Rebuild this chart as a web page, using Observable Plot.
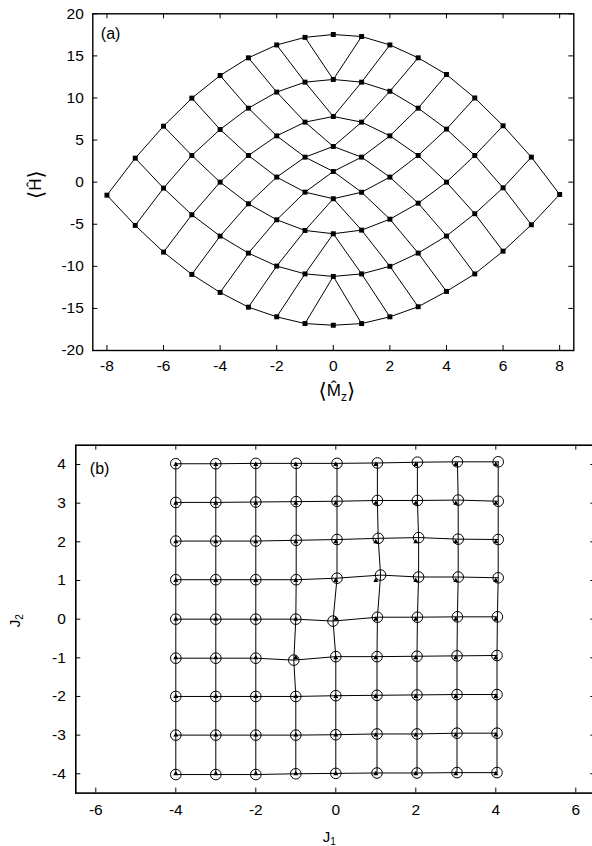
<!DOCTYPE html>
<html><head><meta charset="utf-8">
<script src="https://cdn.jsdelivr.net/npm/d3@7"></script>
<script src="https://cdn.jsdelivr.net/npm/@observablehq/plot@0.6"></script>
<style>
html,body{margin:0;padding:0;background:#fff;overflow:hidden;width:592px;height:846px;}
#a{position:absolute;left:0;top:0;width:592px;}
#b{position:absolute;left:0;top:420px;width:600px;}
svg{max-width:none !important;}
</style></head>
<body><div id="a"></div><div id="b"></div>
<script>
// ---------- Panel (a) data ----------
const mzTicks = [-8, -6, -4, -2, 0, 2, 4, 6, 8];
const hTicks = [-20, -15, -10, -5, 0, 5, 10, 15, 20];
const mzColumns = [-8, -7, -6, -5, -4, -3, -2, -1, 0, 1, 2, 3, 4, 5, 6, 7, 8];
// <H> values in each <Mz> column, listed top to bottom
const hM8 = [-1.55];
const hM7 = [2.85, -5.14];
const hM6 = [6.65, -0.71, -8.31];
const hM5 = [9.98, 3.17, -3.87, -10.96];
const hM4 = [12.67, 6.26, 0.0, -6.41, -13.1];
const hM3 = [14.77, 8.79, 3.17, -2.57, -8.43, -14.85];
const hM2 = [16.3, 10.7, 5.5, 0.6, -4.47, -9.97, -16.0];
const hM1 = [17.2, 11.88, 7.13, 2.97, -1.19, -5.74, -10.9, -16.8];
const h0  = [17.54, 12.2, 7.8, 4.24, 1.27, -1.97, -6.13, -11.2, -17.0];
const hP1 = [17.3, 11.88, 7.13, 2.97, -1.2, -5.7, -10.9, -16.8];
const hP2 = [16.3, 10.8, 5.5, 0.6, -4.4, -10.0, -16.0];
const hP3 = [14.77, 8.79, 3.17, -2.5, -8.43, -14.8];
const hP4 = [12.79, 6.3, 0.0, -6.4, -12.98];
const hP5 = [10.0, 3.17, -3.75, -10.9];
const hP6 = [6.7, -0.67, -8.2];
const hP7 = [2.97, -5.06];
const hP8 = [-1.46];
const hColumns = [hM8, hM7, hM6, hM5, hM4, hM3, hM2, hM1, h0, hP1, hP2, hP3, hP4, hP5, hP6, hP7, hP8];

// ---------- Panel (b) data ----------
const j1Ticks = [-6, -4, -2, 0, 2, 4, 6];
const j2Ticks = [-4, -3, -2, -1, 0, 1, 2, 3, 4];
const gridJ1 = [-4, -3, -2, -1, 0, 1, 2, 3, 4];
const gridJ2 = [4, 3, 2, 1, 0, -1, -2, -3, -4]; // rows, top to bottom
// recovered (J1, J2) for each grid point, rows top to bottom
const recJ1 = [
  [-4, -3, -2, -0.99, 0.03, 1.04, 2.04, 3.04, 4.06],
  [-4, -3, -2, -0.99, 0.03, 1.04, 2.04, 3.06, 4.06],
  [-4, -3, -2, -0.99, 0.03, 1.06, 2.07, 3.06, 4.06],
  [-4, -3, -2, -0.99, 0.03, 1.12, 2.07, 3.06, 4.06],
  [-4, -3, -2, -1.0, -0.07, 1.04, 2.04, 3.04, 4.04],
  [-4, -3, -2, -1.05, 0.0, 1.03, 2.03, 3.03, 4.03],
  [-4, -3, -2, -1.0, 0.0, 1.03, 2.03, 3.03, 4.03],
  [-4, -3, -2, -1.0, 0.0, 1.03, 2.03, 3.03, 4.03],
  [-4, -3, -2, -1.0, 0.0, 1.03, 2.03, 3.03, 4.03]
];
const recJ2 = [
  [4.02, 4.02, 4.03, 4.03, 4.03, 4.04, 4.06, 4.07, 4.07],
  [3.02, 3.02, 3.03, 3.04, 3.05, 3.07, 3.07, 3.08, 3.05],
  [2.02, 2.02, 2.02, 2.04, 2.06, 2.09, 2.11, 2.07, 2.06],
  [1.02, 1.02, 1.02, 1.02, 1.06, 1.14, 1.09, 1.09, 1.07],
  [0.0, 0.0, 0.0, 0.0, -0.05, 0.05, 0.05, 0.06, 0.06],
  [-1.01, -1.01, -1.01, -1.06, -0.97, -0.97, -0.96, -0.95, -0.94],
  [-2.0, -2.0, -2.0, -2.0, -1.98, -1.97, -1.96, -1.95, -1.95],
  [-3.0, -3.0, -3.0, -3.0, -2.99, -2.97, -2.97, -2.95, -2.95],
  [-4.02, -4.02, -4.02, -4.0, -3.99, -3.98, -3.98, -3.97, -3.97]
];

// ---------- build panel (a) ----------
const FONT = "Liberation Sans, Arial, Helvetica, sans-serif";
const fmt = d => String(d);
const ptsA = [];
const keyA = new Map();
mzColumns.forEach((k, c) => {
  const aStart = Math.max(-4, k - 4);
  hColumns[c].forEach((h, i) => {
    const a = aStart + i, b = k - a;
    const p = {a, b, mz: k, h};
    ptsA.push(p);
    keyA.set(a + "," + b, p);
  });
});
const edgesA = [];
for (const p of ptsA) {
  for (const [da, db] of [[1, 0], [0, 1]]) {
    const q = keyA.get((p.a + da) + "," + (p.b + db));
    if (q) edgesA.push({x1: p.mz, y1: p.h, x2: q.mz, y2: q.h});
  }
}

const A = {w: 592, h: 420, ml: 92.3, mr: 18.7, mt: 13.3, mb: 70};
const aFW = A.w - A.ml - A.mr, aFH = A.h - A.mt - A.mb;
const TL = 5; // inward tick length (px)
const TF = 15.5; // tick font size

const plotA = Plot.plot({
  width: A.w, height: A.h,
  marginLeft: A.ml, marginRight: A.mr, marginTop: A.mt, marginBottom: A.mb,
  x: {domain: [-8.5, 8.5]},
  y: {domain: [-20, 20]},
  style: {fontFamily: FONT, fontSize: TF + "px", color: "black", background: "white", overflow: "visible", maxWidth: "none"},
  marks: [
    Plot.axisX(mzTicks, {anchor: "bottom", tickSize: 0, tickPadding: 9, tickFormat: fmt, label: null, fontSize: TF}),
    Plot.axisY(hTicks, {anchor: "left", tickSize: 0, tickPadding: 9, tickFormat: fmt, label: null, fontSize: TF}),
    Plot.ruleX(mzTicks, {x: d => d, insetTop: aFH - TL, stroke: "black"}),
    Plot.ruleX(mzTicks, {x: d => d, insetBottom: aFH - TL, stroke: "black"}),
    Plot.ruleY(hTicks, {y: d => d, insetRight: aFW - TL, stroke: "black"}),
    Plot.ruleY(hTicks, {y: d => d, insetLeft: aFW - TL, stroke: "black"}),
    Plot.link(edgesA, {x1: "x1", y1: "y1", x2: "x2", y2: "y2", stroke: "black", strokeWidth: 1}),
    Plot.dot(ptsA, {x: "mz", y: "h", symbol: "square", r: 2.8, fill: "black"}),
    Plot.frame({stroke: "black", strokeWidth: 1.4}),
    Plot.text(["(a)"], {frameAnchor: "top-left", dx: 8, dy: 14, text: d => d, fontSize: 16, textAnchor: "start", lineAnchor: "top", fill: "black"})
  ]
});
document.getElementById("a").appendChild(plotA);

// ---------- build panel (b) ----------
const truePts = [], recPts = [];
gridJ2.forEach((j2, r) => {
  gridJ1.forEach((j1, c) => {
    truePts.push({x: j1, y: j2});
    recPts.push({x: recJ1[r][c], y: recJ2[r][c], row: r, col: c});
  });
});
const colPts = recPts.slice().sort((p, q) => p.col - q.col || p.row - q.row);

const B = {w: 600, h: 426, ml: 75.3, mr: 4.7, mt: 24.7, mb: 53.4};
const bFW = B.w - B.ml - B.mr, bFH = B.h - B.mt - B.mb;

const plotB = Plot.plot({
  width: B.w, height: B.h,
  marginLeft: B.ml, marginRight: B.mr, marginTop: B.mt, marginBottom: B.mb,
  x: {domain: [-6.5, 6.5]},
  y: {domain: [-4.5, 4.5]},
  style: {fontFamily: FONT, fontSize: TF + "px", color: "black", background: "white", overflow: "visible", maxWidth: "none"},
  marks: [
    Plot.axisX(j1Ticks, {anchor: "bottom", tickSize: 0, tickPadding: 11, tickFormat: fmt, label: null, fontSize: TF}),
    Plot.axisY(j2Ticks, {anchor: "left", tickSize: 0, tickPadding: 10, tickFormat: fmt, label: null, fontSize: TF}),
    Plot.ruleX(j1Ticks, {x: d => d, insetTop: bFH - TL, stroke: "black"}),
    Plot.ruleX(j1Ticks, {x: d => d, insetBottom: bFH - TL, stroke: "black"}),
    Plot.ruleY(j2Ticks, {y: d => d, insetRight: bFW - TL, stroke: "black"}),
    Plot.ruleY(j2Ticks, {y: d => d, insetLeft: bFW - TL, stroke: "black"}),
    Plot.line(recPts, {x: "x", y: "y", z: "row", stroke: "black", strokeWidth: 1}),
    Plot.line(colPts, {x: "x", y: "y", z: "col", stroke: "black", strokeWidth: 1}),
    Plot.dot(recPts, {x: "x", y: "y", r: 5.3, stroke: "black", fill: "none", strokeWidth: 1}),
    Plot.dot(truePts, {x: "x", y: "y", symbol: "triangle", r: 1.9, fill: "black"}),
    Plot.frame({stroke: "black", strokeWidth: 1.6}),
    Plot.text(["(b)"], {frameAnchor: "top-left", dx: 14, dy: 17, text: d => d, fontSize: 16, textAnchor: "start", lineAnchor: "top", fill: "black"})
  ]
});
document.getElementById("b").appendChild(plotB);

// ---------- axis titles (with hats / subscripts) ----------
function addLabel(svg, x, y, parts, rotate) {
  const t = d3.select(svg).append("text")
    .attr("transform", `translate(${x},${y})` + (rotate ? ` rotate(${rotate})` : ""))
    .attr("text-anchor", "middle")
    .attr("font-family", FONT)
    .attr("fill", "black");
  for (const [s, dy, size, fam] of parts) {
    const ts = t.append("tspan").attr("dy", dy).attr("font-size", size).text(s);
    if (fam) ts.attr("font-family", fam);
  }
}
const BR = "DejaVu Sans";
const xA = plotA.scale("x"), yA = plotA.scale("y");
addLabel(plotA, xA.apply(0) + 4, 398, [["\u27E8", 0, 21, BR], ["M\u0302", -2, 17], ["z", 5, 12], ["\u27E9", -3, 21, BR]]);
addLabel(plotA, 43, yA.apply(0) + 3, [["\u27E8", 0, 21, BR], ["\u0124", -2, 17], ["\u27E9", 2, 21, BR]], -90);

const xB = plotB.scale("x"), yB = plotB.scale("y");
addLabel(plotB, xB.apply(0) - 6, 422, [["J", 0, 15], ["1", 3, 10]]);
addLabel(plotB, 20, yB.apply(0) + 2, [["J", 0, 15], ["2", 3, 10]], -90);
</script>
</body></html>
